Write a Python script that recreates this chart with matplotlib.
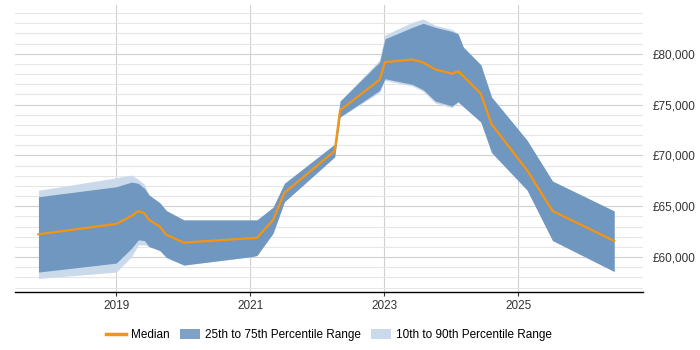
import matplotlib
matplotlib.use("Agg")
import matplotlib.pyplot as plt
from matplotlib.ticker import FuncFormatter, MultipleLocator
from matplotlib.patches import Patch
from matplotlib.lines import Line2D

plt.rcParams["font.family"] = ["Liberation Sans", "DejaVu Sans"]

years = [2017.84, 2019.00, 2019.23, 2019.33, 2019.42, 2019.49, 2019.65, 2019.75, 2020.01,
         2021.00, 2021.10, 2021.34, 2021.51, 2022.26, 2022.34, 2022.93, 2023.01, 2023.42,
         2023.58, 2023.76, 2024.01, 2024.10, 2024.18, 2024.44, 2024.60, 2025.13, 2025.51, 2026.43]
median = [62250, 63265, 64050, 64540, 64310, 63660, 63000, 62190, 61430,
          61860, 61890, 63660, 66330, 70450, 74440, 77450, 79180, 79440,
          79150, 78460, 78040, 78290, 77800, 76080, 73070, 68560, 64540, 61600]
p25 = [58530, 59410, 60880, 61700, 61630, 61040, 60650, 59960, 59220,
       60030, 60160, 62350, 65450, 69860, 73780, 76400, 77550, 76990,
       76470, 75350, 74860, 75300, 74800, 73290, 70290, 66600, 61630, 58590]
p75 = [65940, 66920, 67380, 67255, 66765, 66110, 65350, 64570, 63660,
       63660, 63660, 64900, 67255, 71110, 75350, 79180, 81470, 82610,
       83000, 82610, 82200, 81960, 80650, 78920, 75750, 71500, 67480, 64540]
p10 = [57900, 58530, 60060, 61200, 61200, 61040, 60650, 59960, 59220,
       60030, 60160, 62350, 65450, 69860, 73780, 76200, 77380, 76830,
       76300, 75150, 74700, 75200, 74800, 73290, 70290, 66600, 61630, 58590]
p90 = [66570, 67800, 68070, 67650, 67160, 66110, 65350, 64570, 63660,
       63660, 63660, 64900, 67255, 71110, 75350, 79400, 81860, 83100,
       83430, 82800, 82400, 82000, 80650, 78920, 75750, 71500, 67480, 64540]
xticks = [2019, 2021, 2023, 2025]
labels = ["Median", "25th to 75th Percentile Range", "10th to 90th Percentile Range"]

c_med = "#f7940f"
c_dark = "#7097bf"
c_light = "#cadaeb"

fig = plt.figure(figsize=(7, 3.5), dpi=100)
ax = fig.add_axes([15/700, 1 - 292/350, (643-15)/700, (292-5)/350])

ax.fill_between(years, p10, p90, color=c_light, lw=0, zorder=2)
ax.fill_between(years, p25, p75, color=c_dark, lw=0, zorder=3)
ax.plot(years, median, color=c_med, lw=1.6, zorder=4)

ax.set_xlim(2017.49, 2026.86)
ax.set_ylim(56570, 84800)
ax.set_xticks(xticks)
ax.set_xticklabels([str(t) for t in xticks])
ax.yaxis.set_major_locator(MultipleLocator(5000))
ax.yaxis.set_minor_locator(MultipleLocator(1000))
ax.yaxis.tick_right()
ax.yaxis.set_major_formatter(FuncFormatter(lambda v, p: f"£{int(v):,}"))
ax.tick_params(axis="y", which="both", length=0, labelsize=8.5, pad=7, colors="#333333")
ax.tick_params(axis="x", length=3, labelsize=8.5, colors="#333333", width=0.8, pad=3)

ax.grid(axis="y", which="major", color="#d0d0d0", lw=0.8, zorder=0)
ax.grid(axis="y", which="minor", color="#e6e6e6", lw=0.8, zorder=0)
ax.grid(axis="x", which="major", color="#d0d0d0", lw=0.8, zorder=0)
ax.set_axisbelow(True)
for s in ["top", "left", "right"]:
    ax.spines[s].set_visible(False)
ax.spines["bottom"].set_color("#000000")
ax.spines["bottom"].set_linewidth(1)

handles = [Line2D([0], [0], color=c_med, lw=2.5),
           Patch(color="#80a1c6", lw=0),
           Patch(color=c_light, lw=0)]
fig.legend(handles, labels, loc="center", bbox_to_anchor=(329/700, 1 - 335/350), ncol=3,
           frameon=False, fontsize=8.5, handlelength=1.7, handleheight=1.0,
           columnspacing=0.85, handletextpad=0.45, borderpad=0, borderaxespad=0)

fig.savefig("out.png", dpi=100)
